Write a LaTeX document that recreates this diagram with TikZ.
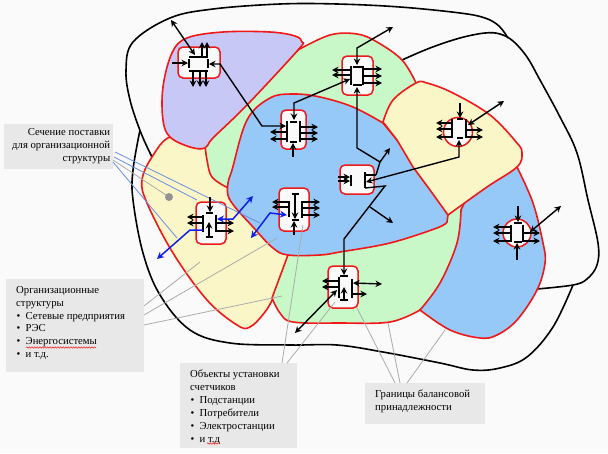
\documentclass[tikz,border=0pt]{standalone}
\usepackage{fontspec}
\setmainfont{Liberation Serif}
\usetikzlibrary{arrows.meta,decorations.pathmorphing}
\definecolor{paper}{HTML}{FAFAFA}
\definecolor{lilac}{HTML}{C8C8F6}
\definecolor{cream}{HTML}{FAF6C8}
\definecolor{mint}{HTML}{C8F8C8}
\definecolor{sky}{HTML}{96C8F8}
\definecolor{edge}{HTML}{F01818}
\definecolor{panel}{HTML}{E8E8E8}
\definecolor{leadgray}{HTML}{ABABAB}
\definecolor{leadblue}{HTML}{6A8CE6}
\definecolor{flow}{HTML}{1020E8}
\newcommand{\paneltextfont}{\fontsize{10.7}{12.9}\selectfont}
\newcommand{\itm}[1]{\hspace*{0.5pt}\makebox[9pt][l]{\textbullet}#1\par}
\tikzset{
  x=1pt,y=-1pt,
  region/.style={draw=edge,line width=1.6pt,line join=round},
  border/.style={draw=black,line width=1.6pt,line join=round},
  meter/.style={draw=edge,fill=paper,line width=1.5pt,rounded corners=5pt,inner sep=0pt},
  meterround/.style={draw=edge,fill=paper,line width=1.5pt,circle,inner sep=0pt},
  wire/.style={draw=black,line width=1.4pt,-{Stealth[length=6.5pt,width=6.5pt]}},
  biwire/.style={draw=black,line width=1.4pt,{Stealth[length=6.5pt,width=6.5pt]}-{Stealth[length=6.5pt,width=6.5pt]}},
  plainwire/.style={draw=black,line width=1.4pt},
  tbar/.style={draw=black,line width=1.5pt},
  bluewire/.style={draw=flow,line width=1.5pt,{Stealth[length=7pt,width=7pt]}-{Stealth[length=7pt,width=7pt]}},
  bluestub/.style={draw=flow,line width=1.5pt,-{Stealth[length=7pt,width=7pt]}},
  leadg/.style={draw=leadgray,line width=0.8pt},
  leadb/.style={draw=leadblue,line width=0.8pt},
  panelbox/.style={fill=panel,anchor=north west,inner sep=0pt},
  squiggle/.style={draw=edge,line width=0.5pt,decorate,decoration={snake,amplitude=0.7pt,segment length=2.6pt}},
}
\begin{document}
\begin{tikzpicture}
\useasboundingbox (0,0) rectangle (608,453);
\fill[paper] (0,0) rectangle (608,453);

% outer balance boundaries
\draw[border] plot[smooth,tension=.6] coordinates {(152,157) (141,133) (130,100) (126,70) (133,42) (170,18) (213,9) (280,4) (337,4) (400,7) (460,13) (485,18) (499,26) (508,38)};
\draw[border] plot[smooth,tension=.6] coordinates {(402,60) (430,48) (460,38) (485,33) (500,34) (513,41) (527,57) (540,80) (560,117) (577,153) (588,200) (598,243) (597,265) (587,279) (573,285) (537,289)};
\draw[border] plot[smooth,tension=.6] coordinates {(140,130) (133,170) (133,200) (143,253) (160,295) (190,330) (230,343) (290,345) (337,345) (383,352) (440,363) (473,370) (500,368) (527,357) (553,327) (573,285)};

% supply areas, painted back to front
\draw[region,fill=cream] plot[smooth cycle,tension=.6] coordinates {(170,137) (152,157) (142,180) (147,203) (173,253) (207,300) (237,325) (250,327) (265,312) (275,295) (300,250) (300,200) (240,150) (200,140)};
\draw[region,fill=mint] plot[smooth,tension=.6] coordinates {(205,145) (207,160) (212,177) (228,188)} -- (300,180) -- (430,110) -- (416,83) -- plot[smooth,tension=.6] coordinates {(416,83) (402,60) (377,42) (357,34) (330,35) (298,50)} -- (240,110) -- cycle;
\draw[region,fill=lilac] plot[smooth cycle,tension=.6] coordinates {(302,42) (298,50) (247,105) (213,138) (205,148) (190,147) (170,137) (163,120) (163,87) (172,53) (187,38) (223,32) (270,32) (295,36)};
\draw[region,fill=mint] plot[smooth,tension=.6] coordinates {(272,298) (280,313) (293,322) (340,323) (390,322) (420,310)} -- (480,250) -- (465,195) -- (300,200) -- (288,255) -- cycle;
\draw[region,fill=sky] plot[smooth,tension=.6] coordinates {(461,210) (457,243) (440,283) (420,310)} -- plot[smooth,tension=.6] coordinates {(420,310) (450,330) (480,338) (497,335) (517,320) (537,290) (545,263) (543,243) (533,203) (517,167)} -- (480,170) -- cycle;
\draw[region,fill=sky] plot[smooth,tension=.6] coordinates {(447,222) (437,228) (390,243) (340,252) (320,255) (288,255) (273,248) (253,227) (230,200) (228,183) (232,170) (247,120) (270,98) (293,94) (320,97) (353,107) (383,123)} -- (430,180) -- (448,215) -- cycle;
\draw[region,fill=cream] plot[smooth,tension=.6] coordinates {(383,122) (393,100) (416,83) (427,83) (453,93) (490,115) (517,143) (522,153) (517,167) (487,187) (448,215)} -- (430,190) -- (413,167) -- (397,140) -- cycle;

% panels with captions
\node[panelbox] (sec) at (4,124) {\parbox[c][45pt][t]{106pt}{\paneltextfont\raggedleft\vspace*{4.5pt}Сечение поставки\par для организационной\par структуры\par}\hspace*{3pt}};
\node[panelbox,inner xsep=0pt] (org) at (6,279) {\hspace*{10pt}\parbox[c][93pt][t]{128pt}{\paneltextfont\raggedright\vspace*{7pt}Организационные\par структуры\par\itm{Сетевые предприятия}\itm{РЭС}\itm{Энергосистемы}\itm{и т.д.}}};
\node[panelbox] (obj) at (180,363) {\hspace*{10pt}\parbox[c][85pt][t]{107pt}{\paneltextfont\raggedright\vspace*{7pt}Объекты установки\par счетчиков\par\itm{Подстанции}\itm{Потребители}\itm{Электростанции}\itm{и т.д}}};
\node[panelbox] (gran) at (365,383) {\hspace*{10pt}\parbox[c][41pt][t]{110pt}{\paneltextfont\raggedright\vspace*{6.5pt}Границы балансовой\par принадлежности\par}};
\draw[squiggle] (26,347.5) -- (96,347.5);
\draw[squiggle] (207,443.5) -- (220,443.5);

% meters
\node[meter,minimum width=42pt,minimum height=31pt] (d1) at (199,62.5) {};
\node[meter,minimum width=25pt,minimum height=39pt] (d2) at (293.5,129.5) {};
\node[meter,minimum width=31pt,minimum height=39pt] (d3) at (357.5,75.5) {};
\node[meter,minimum width=34pt,minimum height=29pt] (d4) at (357,179.5) {};
\node[meter,minimum width=30pt,minimum height=42pt] (d5) at (343,287) {};
\node[meterround,minimum size=29pt] (d6) at (458,132) {};
\node[meterround,minimum size=28pt] (d7) at (517,233) {};
\node[meter,minimum width=30pt,minimum height=42pt] (d8) at (211,223) {};
\node[meter,minimum width=30pt,minimum height=43pt] (d9) at (294,209.5) {};

% leader lines of the panels
\coordinate (secA) at (115,152);
\coordinate (secB) at (114,157);
\coordinate (secC) at (113,160);
\coordinate (secD) at (113,162);
\draw[leadb] (secA) -- (260,223);
\draw[leadb] (secB) -- (197,200);
\draw[leadb] (secD) -- (177,238);
\coordinate (dot) at (169,197);
\draw[leadg] (secC) -- (dot);
\fill[gray!85] (dot) circle [radius=4pt];
\coordinate (orgA) at (144,306);
\coordinate (orgB) at (144,315);
\coordinate (orgC) at (144,325);
\draw[leadg] (orgA) -- (200,262);
\draw[leadg] (orgB) -- (277,238);
\draw[leadg] (orgC) -- (282,296);
\coordinate (objA) at (282,363);
\coordinate (objB) at (287,363);
\draw[leadg] (objA) -- (303,225);
\draw[leadg] (objB) -- (335,302);
\coordinate (granA) at (395,383);
\coordinate (granB) at (400,383);
\coordinate (granC) at (407,383);
\draw[leadg] (granA) -- (357,308);
\draw[leadg] (granB) -- (388,323);
\draw[leadg] (granC) -- (445,330);

% meter 1
\foreach \a/\b/\c/\d in {189/57/208/57,189/71/208/71,189/59/189/68,208/59/208/68} \draw[tbar] (\a,\b) -- (\c,\d);
\foreach \a/\b/\c/\d in {172/63/188/63,202/56/202/42,207/56/207/42,193/71/193/87,200/71/200/87,206/71/206/87} \draw[wire] (\a,\b) -- (\c,\d);
\coordinate (outTop) at (171,20);
\draw[biwire] (outTop) -- (195,55);
% link between meters 1 and 2
\draw[biwire] (209,64) -- (220,64) -- (262,126) -- (286,126);

% meter 2
\foreach \a/\b/\c/\d in {287/121/287/142,300/121/300/142,290/122/297/122,290/142/297/142} \draw[tbar] (\a,\b) -- (\c,\d);
\foreach \a/\b/\c/\d in {293/157/293/143,287/132/270/132,287/139/270/139,300/127/318/127,300/133/318/133,300/139/318/139} \draw[wire] (\a,\b) -- (\c,\d);
% link between meters 2 and 3
\draw[biwire] (294,120) -- (294,103) -- (350,79);

% meter 3
\foreach \a/\b/\c/\d in {351/66/351/85,363/66/363/85,353/67/362/67,353/85/362/85} \draw[tbar] (\a,\b) -- (\c,\d);
\foreach \a/\b/\c/\d in {351/70/332/70,351/75/332/75,363/69/382/69,363/76/382/76,363/83/382/83} \draw[wire] (\a,\b) -- (\c,\d);
\coordinate (outThree) at (393,27);
\draw[biwire] (357,65) -- (357,48) -- (outThree);
\draw[wire] (376,175) -- (380,162) -- (357,148) -- (357,87);
\coordinate (stubFour) at (390,148);
\draw[wire] (380,162) -- (stubFour);

% meter 4
\foreach \a/\b/\c/\d in {351/175/351/186,365/172/365/188} \draw[tbar] (\a,\b) -- (\c,\d);
\foreach \a/\b/\c/\d in {338/177/350/177,338/181/350/181} \draw[wire] (\a,\b) -- (\c,\d);
\draw[plainwire] (365,175) -- (376,175);
\coordinate (stubFourB) at (393,223);
\draw[wire] (370,207) -- (stubFourB);
% link from meter 4 to meter 5
\draw[wire] (365,188) -- (385,186) -- (344,239) -- (344,275);
% link between meters 4 and 6
\draw[biwire] (366,182) -- (459,157) -- (459,140);

% meter 5
\foreach \a/\b/\c/\d in {339/277/339/298,352/279/352/298,340/276/348/276,340/300/348/300} \draw[tbar] (\a,\b) -- (\c,\d);
\foreach \a/\b/\c/\d in {344/300/344/287,339/281/322/281,339/287/322/287,352/294/367/294} \draw[wire] (\a,\b) -- (\c,\d);
\coordinate (outFive) at (382,284);
\draw[biwire] (353,283) -- (outFive);
\coordinate (outFiveB) at (295,333);
\draw[biwire] (337,290) -- (outFiveB);

% meter 6
\foreach \a/\b/\c/\d in {452/119/452/138,466/119/466/138,457/119/463/119,457/138/463/138} \draw[tbar] (\a,\b) -- (\c,\d);
\foreach \a/\b/\c/\d in {460/103/460/118,452/123/436/123,452/129/436/129,452/137/436/137,466/130/483/130,466/137/483/137} \draw[wire] (\a,\b) -- (\c,\d);
\coordinate (outSix) at (504,101);
\draw[biwire] (468,125) -- (outSix);

% meter 7
\foreach \a/\b/\c/\d in {511/225/511/242,523/225/523/242,514/223/522/223,514/242/522/242} \draw[tbar] (\a,\b) -- (\c,\d);
\foreach \a/\b/\c/\d in {518/206/518/222,517/260/517/243,511/227/493/227,511/233/493/233,511/241/493/241,523/233/540/233,523/241/540/241} \draw[wire] (\a,\b) -- (\c,\d);
\coordinate (outSeven) at (561,206);
\draw[biwire] (530,232) -- (outSeven);

% meter 8
\foreach \a/\b/\c/\d in {203/215/203/232,216/215/216/232,206/213/213/213,206/237/213/237} \draw[tbar] (\a,\b) -- (\c,\d);
\foreach \a/\b/\c/\d in {210/197/210/212,209/237/209/222,203/217/187/217,203/223/187/223,216/223/234/223,216/231/234/231} \draw[wire] (\a,\b) -- (\c,\d);
\coordinate (outEight) at (157,259);
\draw[bluestub] (203,230) -- (190,230) -- (outEight);
\coordinate (outEightB) at (253,196);
\draw[bluewire] (217,219) -- (233,219) -- (outEightB);

% meter 9
\foreach \a/\b/\c/\d in {289/201/289/217,302/201/302/218,292/194/299/194,292/220/299/220} \draw[tbar] (\a,\b) -- (\c,\d);
\foreach \a/\b/\c/\d in {295/194/295/219,294/235/294/221,289/202/272/202,289/207/272/207,302/202/320/202,302/208/320/208,302/215/320/215} \draw[wire] (\a,\b) -- (\c,\d);
\coordinate (outNine) at (251,238);
\draw[bluewire] (287,215) -- (270,213) -- (outNine);
\end{tikzpicture}
\end{document}
